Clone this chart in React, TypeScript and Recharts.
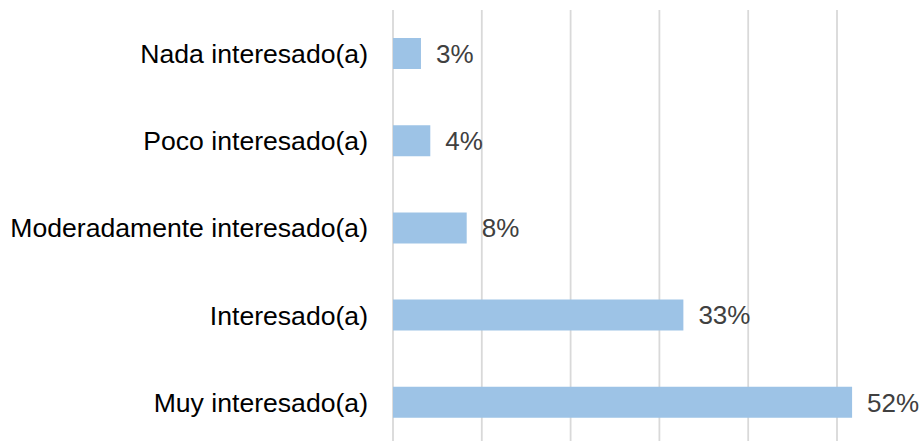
import { BarChart, Bar, XAxis, YAxis, CartesianGrid, LabelList } from 'recharts';

// categories top to bottom, share of respondents
const categories = [
  'Nada interesado(a)',
  'Poco interesado(a)',
  'Moderadamente interesado(a)',
  'Interesado(a)',
  'Muy interesado(a)',
];
const shares = [0.0315, 0.042, 0.083, 0.327, 0.517];
const gridTicks = [0, 0.1, 0.2, 0.3, 0.4, 0.5];
const X_MAX = 0.55;

const data = categories.map((name, i) => ({ name, value: shares[i] }));

const FONT = '"Liberation Sans", Arial, sans-serif';

export default function App() {
  return (
    <div style={{ position: 'absolute', left: 0, top: 0, width: 922, height: 441, overflow: 'hidden', background: '#fff' }}>
      <BarChart
        width={922}
        height={446}
        data={data}
        layout="vertical"
        margin={{ top: 10, right: 40.6, bottom: 0, left: 0 }}
        barSize={31}
      >
        <CartesianGrid
          horizontal={false}
          stroke="#d9d9d9"
          strokeWidth={1.8}
          verticalCoordinatesGenerator={((p: any) => {
            const s = p?.xAxis?.scale;
            if (typeof s === 'function') return gridTicks.map((t) => s(t));
            return gridTicks.map((t) => p.offset.left + (t / X_MAX) * p.offset.width);
          }) as any}
        />
        <XAxis
          type="number"
          domain={[0, X_MAX]}
          ticks={gridTicks}
          interval={0}
          allowDataOverflow
          tick={() => <g />}
          axisLine={false}
          tickLine={false}
          height={0}
        />
        <YAxis
          type="category"
          dataKey="name"
          width={393}
          axisLine={false}
          tickLine={false}
          tickSize={0}
          tickMargin={25}
          tick={{ fontSize: 26.6, fill: '#000', fontFamily: FONT }}
          interval={0}
        />
        <Bar dataKey="value" fill="#9dc3e6" isAnimationActive={false}>
          <LabelList
            dataKey="value"
            position="right"
            offset={15}
            formatter={((v: any) => `${Math.round(Number(v) * 100)}%`) as any}
            style={{ fontSize: 26, fill: '#404040', fontFamily: FONT }}
          />
        </Bar>
      </BarChart>
    </div>
  );
}
